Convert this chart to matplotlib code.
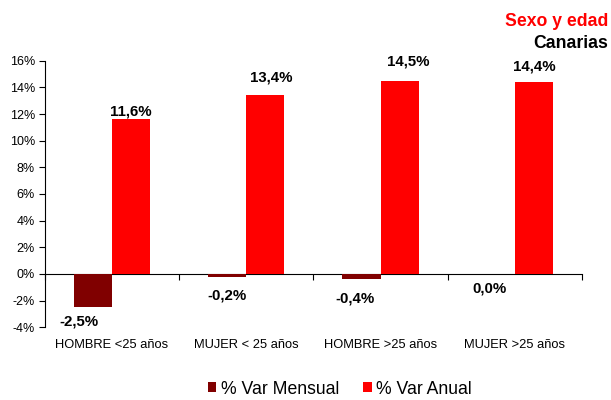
import numpy as np
import matplotlib.pyplot as plt

categorias = ["HOMBRE <25 años", "MUJER < 25 años", "HOMBRE >25 años", "MUJER >25 años"]
var_mensual = [-2.5, -0.2, -0.4, 0.0]
var_anual = [11.6, 13.4, 14.5, 14.4]

plt.rcParams["font.family"] = ["Liberation Sans", "DejaVu Sans"]

fig = plt.figure(figsize=(6.11, 4.0), dpi=100)
ax = fig.add_axes([0.0732, 0.1817, 0.8793, 0.6666])

x = np.arange(len(categorias))
w = 0.283
b1 = ax.bar(x - w / 2, var_mensual, w, color="#800000", label="% Var Mensual")
b2 = ax.bar(x + w / 2, var_anual, w, color="#ff0000", label="% Var Anual")

ax.set_xlim(-0.5, len(categorias) - 0.5)
ax.set_ylim(-4, 16)
ax.set_yticks(range(-4, 17, 2))
ax.set_yticklabels([f"{v}%" for v in range(-4, 17, 2)], fontsize=9)
ax.set_xticks(x)
ax.set_xticklabels(categorias, fontsize=9.3)
ax.tick_params(axis="x", length=0, pad=8.5)
ax.tick_params(axis="y", length=4, width=0.8, pad=3)

for s in ["top", "right", "bottom"]:
    ax.spines[s].set_visible(False)
ax.spines["left"].set_linewidth(0.8)

# eje horizontal en el 0 con marcas entre categorias
sec = ax.secondary_xaxis(4 / 20)
sec.set_xticks(np.arange(-0.5, len(categorias), 1))
sec.set_xticklabels([])
sec.tick_params(length=4, width=0.8, direction="out")
sec.spines["bottom"].set_linewidth(0.8)

# etiquetas de valor (desplazadas a mano como en el original)
off_m = [(-10, -10.5), (0, -13.7), (-4.7, -13.5), (-4.2, -10.8)]
for xi, v, o in zip(x - w / 2, var_mensual, off_m):
    ax.annotate(f"{v:.1f}%".replace(".", ","), (xi, v), xytext=o,
                textcoords="offset points", ha="center", va="center",
                fontsize=10.8, fontweight="bold")
off_a = [(0, 5.3), (4.7, 13), (6.3, 13.9), (0, 11.2)]
for xi, v, o in zip(x + w / 2, var_anual, off_a):
    ax.annotate(f"{v:.1f}%".replace(".", ","), (xi, v), xytext=o,
                textcoords="offset points", ha="center", va="center",
                fontsize=10.8, fontweight="bold")

fig.text(0.9956, 0.9458, "Sexo y edad", color="#ff0000", fontsize=12.7,
         fontweight="bold", ha="right", va="center")
fig.text(0.9956, 0.8917, "Canarias", color="black", fontsize=12.7,
         fontweight="bold", ha="right", va="center")

fig.legend(handles=[b1, b2], loc="center", bbox_to_anchor=(0.556, 0.027),
           ncol=2, frameon=False, fontsize=12.7, handlelength=0.5,
           handleheight=0.5, handletextpad=0.25, columnspacing=1.36,
           borderaxespad=0, borderpad=0)

fig.savefig("out.png", dpi=100)
